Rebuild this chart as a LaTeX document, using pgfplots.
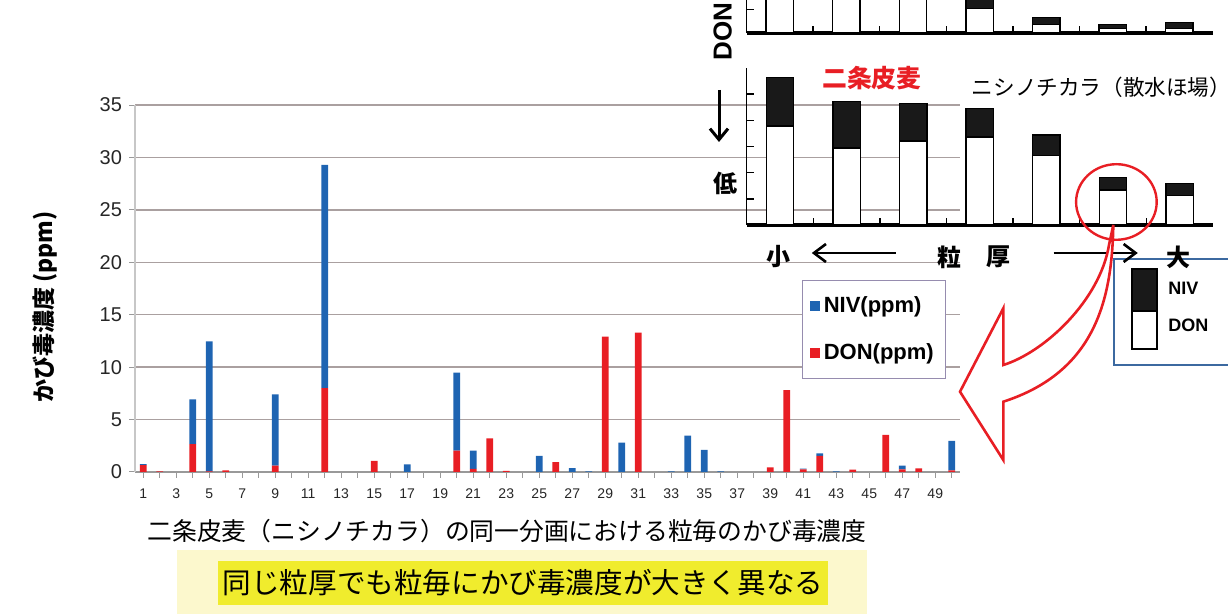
\documentclass[border=0pt]{standalone}
\usepackage{pgfplots}
\pgfplotsset{compat=1.18}
\usepackage{pgfplotstable}
\usetikzlibrary{arrows.meta}
\usepackage{fontspec}
\setmainfont{Liberation Sans}
\newfontfamily\jp{Noto Sans CJK JP}
\definecolor{niv}{RGB}{30,100,178}
\definecolor{don}{RGB}{232,30,36}
\definecolor{gridc}{RGB}{170,160,160}
\definecolor{legc}{RGB}{150,140,175}
\definecolor{boxblue}{RGB}{60,105,160}
\definecolor{paleyel}{RGB}{252,248,205}
\definecolor{brightyel}{RGB}{240,236,45}

\pgfplotstableread{
x NIV DON
1 0.10 0.65
2 0 0.05
3 0 0
4 4.26 2.67
5 12.40 0.05
6 0 0.15
7 0 0
8 0 0
9 6.80 0.60
10 0 0
11 0 0
12 21.30 8.00
13 0 0
14 0 0
15 0 1.05
16 0 0
17 0.73 0
18 0 0
19 0 0
20 7.44 2.03
21 1.74 0.29
22 0 3.21
23 0 0.10
24 0 0
25 1.53 0
26 0 0.95
27 0.38 0
28 0.05 0
29 0 12.90
30 2.80 0
31 0 13.30
32 0 0
33 0.05 0
34 3.46 0
35 2.10 0
36 0.05 0
37 0 0
38 0 0
39 0 0.45
40 0 7.80
41 0.05 0.26
42 0.25 1.53
43 0.05 0
44 0 0.22
45 0 0
46 0 3.53
47 0.34 0.26
48 0 0.35
49 0 0
50 2.83 0.15
}\maintab

\pgfplotstableread{
x NIV DON
1 1.85 3.79
2 1.76 2.95
3 1.43 3.21
4 1.08 3.37
5 0.79 2.65
6 0.47 1.34
7 0.47 1.12
}\lowtab

\pgfplotstableread{
x NIV DON
1 0.50 3.00
2 0.50 3.00
3 0.50 3.00
4 1.00 1.04
5 0.29 0.37
6 0.19 0.18
7 0.25 0.18
}\toptab

\begin{document}
\begin{tikzpicture}[x=0.5pt,y=-0.5pt]
\useasboundingbox (0,0) rectangle (1228,614);

% ---------------- main chart ----------------
\begin{axis}[
  at={(67.5pt,-236pt)}, anchor=south west,
  scale only axis, width=412.5pt, height=183.5pt,
  xmin=0.5, xmax=50.5, ymin=0, ymax=35,
  ybar stacked, bar width=3.3pt,
  axis line style={-},
  axis x line*=bottom, axis y line*=left,
  x axis line style={draw=black!40, line width=0.7pt},
  y axis line style={draw=black!22, line width=0.7pt},
  ytick={0,5,...,35}, ymajorgrids, grid style={gridc, line width=0.75pt},
  xtick={1,3,...,49}, minor xtick={2,4,...,50},
  tick style={black!40, line width=0.5pt}, major tick length=3pt, minor tick length=3pt,
  tick align=outside,
  /pgf/number format/assume math mode=true,
  yticklabel style={font=\fontsize{10}{11}\selectfont, text=black!85},
  xticklabel style={font=\fontsize{7}{8}\selectfont, text=black!85, yshift=-2pt},
  legend style={at={(0.808,0.523)}, anchor=north west, draw=legc, line width=0.6pt,
    font=\bfseries\fontsize{11}{12}\selectfont, row sep=10pt, inner xsep=4pt, inner ysep=6pt,
    cells={anchor=west}},
  legend image code/.code={\fill[#1] (0pt,-2.4pt) rectangle (4.8pt,2.4pt);},
  reverse legend,
  clip=false,
]
\addplot[fill=don, draw=none] table[x=x,y=DON]{\maintab};
\addplot[fill=niv, draw=none] table[x=x,y=NIV]{\maintab};
\legend{DON(ppm), NIV(ppm)}
\end{axis}

\node[rotate=90, font=\jp\bfseries\fontsize{11.5}{12}\selectfont] at (45,307) {かび毒濃度 (ppm)};

% captions
\node[font=\jp\fontsize{12.4}{14}\selectfont] at (507,531) {二条皮麦（ニシノチカラ）の同一分画における粒毎のかび毒濃度};
\fill[paleyel] (177,550) rectangle (867,614);
\fill[brightyel] (218,561) rectangle (828,605);
\node[font=\jp\fontsize{14.3}{16}\selectfont] at (523,583) {同じ粒厚でも粒毎にかび毒濃度が大きく異なる};

% ---------------- inset: top (cut) chart ----------------
\begin{axis}[
  at={(373.3pt,-16.5pt)}, anchor=south west,
  scale only axis, width=233pt, height=16.5pt,
  xmin=0.5, xmax=7.5, ymin=0, ymax=1.39,
  ybar stacked, bar width=13.7pt,
  axis line style={-},
  axis x line*=bottom, axis y line*=left,
  x axis line style={line width=1.6pt}, y axis line style={line width=0.8pt},
  ytick={1}, xtick={1.5,2.5,...,6.5}, tick align=inside, major tick length=3.5pt,
  tick style={black, line width=0.7pt},
  yticklabels={}, xticklabels={},
]
\addplot[fill=white, draw=black, line width=0.7pt] table[x=x,y=DON]{\toptab};
\addplot[fill=black!90, draw=black, line width=0.7pt] table[x=x,y=NIV]{\toptab};
\end{axis}

% ---------------- inset: bottom chart ----------------
\begin{axis}[
  at={(373.3pt,-112.5pt)}, anchor=south west,
  scale only axis, width=233.2pt, height=78.5pt,
  xmin=0.5, xmax=7.5, ymin=0, ymax=6,
  ybar stacked, bar width=13.7pt,
  axis line style={-},
  axis x line*=bottom, axis y line*=left,
  x axis line style={line width=1.6pt}, y axis line style={line width=0.8pt},
  ytick={1,...,5}, xtick={1.5,2.5,...,6.5}, tick align=inside, major tick length=3.5pt,
  tick style={black, line width=0.7pt},
  yticklabels={}, xticklabels={},
]
\addplot[fill=white, draw=black, line width=0.7pt] table[x=x,y=DON]{\lowtab};
\addplot[fill=black!90, draw=black, line width=0.7pt] table[x=x,y=NIV]{\lowtab};
\end{axis}

\node[rotate=90, font=\bfseries\fontsize{13}{14}\selectfont] at (722.6,31.5) {DON};
\draw[-{Straight Barb[length=5.5pt,width=9pt]}, line width=1.5pt] (719,90) -- (719,142);
\node[font=\jp\bfseries\fontsize{12}{13}\selectfont] at (725,183) {低};
\node[font=\jp\bfseries\fontsize{12.4}{13}\selectfont, text=don] at (871.8,78) {二条皮麦};
\node[font=\jp\fontsize{10.8}{12}\selectfont, anchor=west, inner sep=0pt] at (971.4,87) {ニシノチカラ（散水ほ場）};

% inset legend box
\draw[boxblue, line width=0.9pt, fill=white] (1114,259) rectangle (1240,365);
\fill[black!90] (1132.3,269) rectangle (1156.7,310.7);
\draw[black, line width=1pt] (1132.3,269) rectangle (1156.7,349.3);
\draw[black, line width=1pt] (1132.3,310.7) -- (1156.7,310.7);
\node[font=\bfseries\fontsize{9}{10}\selectfont, anchor=west, inner sep=0pt] at (1168,288) {NIV};
\node[font=\bfseries\fontsize{9}{10}\selectfont, anchor=west, inner sep=0pt] at (1168,325) {DON};

% bottom labels of inset
\node[font=\jp\bfseries\fontsize{12}{13}\selectfont] at (778,257) {小};
\draw[-{Straight Barb[length=6pt,width=9pt]}, line width=1.3pt] (895.9,253) -- (811.8,253);
\node[font=\jp\bfseries\fontsize{12}{13}\selectfont] at (949,257) {粒};
\node[font=\jp\bfseries\fontsize{12}{13}\selectfont] at (998,257) {厚};
\draw[-{Straight Barb[length=6pt,width=9pt]}, line width=1.3pt] (1053.7,253) -- (1137.8,253);
\node[font=\jp\bfseries\fontsize{12}{13}\selectfont] at (1178,257) {大};

% red circle and hollow arrow
\draw[don, line width=1.2pt] (1116.4,202) ellipse [x radius=20.15pt, y radius=18.9pt];
\draw[don, line width=1.3pt, fill=white, line join=miter]
  (1113.3,225) .. controls (1112,300) and (1095,372) .. (1003.3,401.7)
  -- (1003.3,460) -- (960,391.7) -- (1003.3,308.3) -- (1003.3,365)
  .. controls (1045,352) and (1100,300) .. (1109,245) -- cycle;
\end{tikzpicture}
\end{document}
